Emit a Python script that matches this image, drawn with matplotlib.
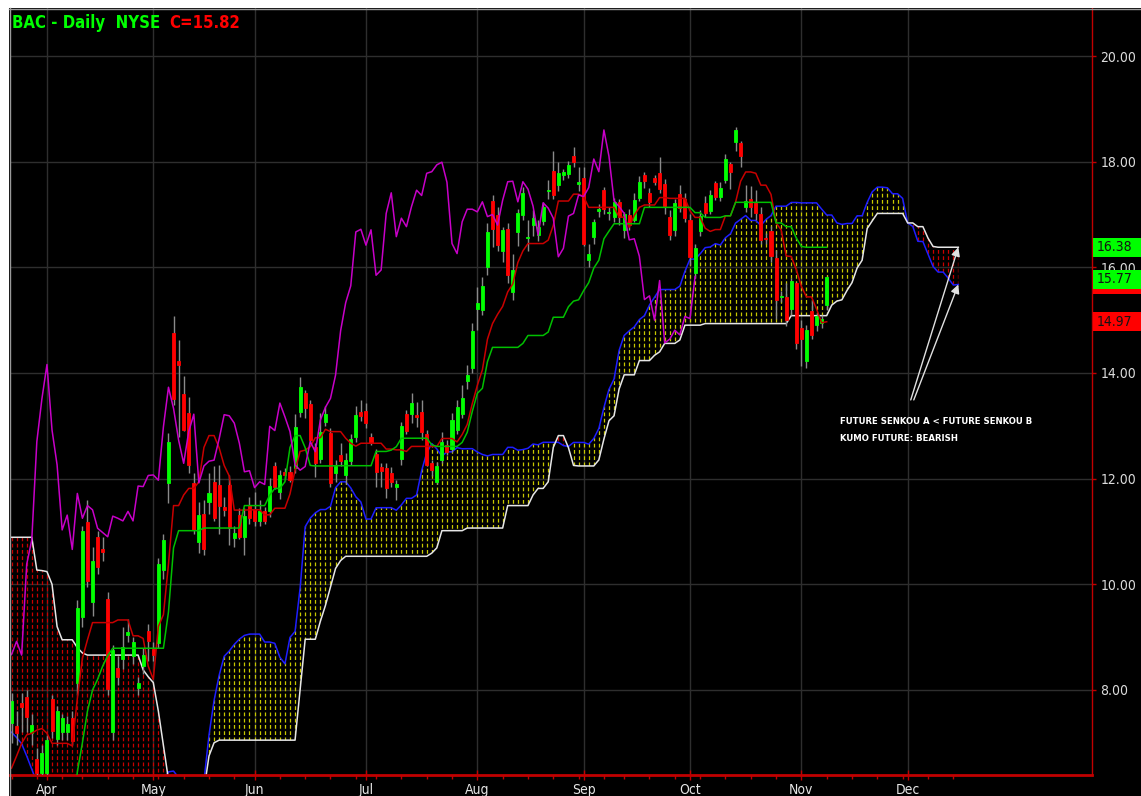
import numpy as np
import pandas as pd
import matplotlib
matplotlib.use("Agg")
import matplotlib.pyplot as plt
import matplotlib.transforms as mtransforms
from matplotlib import font_manager as fm
from matplotlib.patches import Rectangle
from matplotlib.lines import Line2D
from matplotlib.path import Path

# ---------------------------------------------------------------- data
symbol_text = "BAC - Daily  NYSE"
session_start = "2009-03-23"
session_end = "2009-11-09"
market_holidays = ["2009-04-10", "2009-05-25", "2009-07-03", "2009-09-07"]

opens = [7.37, 7.32, 7.75, 7.87, 7.18, 6.69, 6.42, 6.42, 7.83, 7.08,
         7.21, 7.20, 7.46, 8.14, 9.39, 11.18, 9.67, 10.89, 10.67, 9.73,
         7.20, 8.42, 8.58, 9.04, 8.65, 8.03, 8.46, 9.12, 8.77, 8.88,
         10.27, 11.91, 14.76, 14.23, 13.60, 13.24, 11.92, 10.81, 11.34, 11.55,
         11.94, 11.88, 11.47, 11.88, 10.88, 11.31, 10.90, 11.50, 11.43, 11.19,
         11.38, 11.38, 12.24, 11.75, 12.13, 12.13, 12.20, 13.27, 13.63, 13.41,
         12.59, 12.38, 13.08, 12.87, 12.10, 12.45, 12.07, 12.34, 12.79, 13.26,
         13.28, 12.78, 12.46, 12.22, 12.20, 12.10, 11.85, 12.37, 13.22, 13.22,
         13.20, 13.27, 12.85, 12.29, 11.94, 12.35, 12.64, 12.57, 12.92, 13.22,
         13.85, 14.09, 15.22, 15.19, 16.01, 17.26, 16.99, 16.30, 16.73, 15.54,
         16.67, 16.99, 16.55, 16.80, 16.61, 16.88, 17.44, 17.83, 17.56, 17.75,
         17.76, 18.11, 17.58, 17.70, 16.14, 16.58, 17.07, 17.46, 17.02, 16.96,
         17.24, 16.71, 16.99, 16.90, 17.31, 17.75, 17.40, 17.69, 17.78, 17.57,
         16.96, 16.71, 17.39, 17.29, 16.90, 15.90, 16.68, 17.22, 17.07, 17.59,
         17.33, 17.66, 17.96, 18.38, 18.35, 17.15, 17.29, 17.22, 17.01, 16.56,
         16.68, 16.18, 15.43, 15.44, 15.21, 15.71, 14.86, 14.23, 15.17, 14.91,
         14.94, 15.29]

highs = [7.95, 7.60, 7.95, 8.00, 7.55, 6.90, 6.95, 7.15, 7.90, 7.70,
         7.55, 7.50, 7.60, 9.70, 11.10, 11.60, 10.70, 11.00, 10.90, 9.85,
         8.85, 8.65, 9.20, 9.35, 9.00, 8.25, 8.80, 9.25, 8.90, 10.50,
         10.95, 12.86, 15.08, 14.62, 13.95, 13.55, 12.10, 11.55, 11.60, 12.10,
         12.24, 12.26, 11.65, 12.07, 11.10, 11.45, 11.44, 11.65, 11.75, 11.60,
         11.47, 12.01, 12.32, 12.16, 12.20, 12.23, 13.22, 13.93, 13.68, 13.49,
         12.67, 13.24, 13.38, 12.95, 12.35, 12.67, 12.48, 12.85, 13.37, 13.49,
         13.43, 12.86, 12.57, 12.30, 12.30, 12.22, 11.97, 13.07, 13.30, 13.62,
         13.45, 13.49, 12.93, 12.35, 12.32, 12.89, 12.74, 13.24, 13.49, 13.77,
         14.15, 14.94, 15.63, 15.82, 16.83, 17.37, 17.14, 16.77, 16.84, 16.26,
         17.11, 17.52, 16.90, 17.08, 16.89, 17.24, 17.65, 18.21, 17.99, 17.87,
         18.02, 18.27, 17.90, 17.90, 16.45, 16.92, 17.20, 17.52, 17.15, 17.32,
         17.30, 17.05, 17.10, 17.40, 17.72, 17.81, 17.50, 17.75, 18.09, 17.68,
         17.08, 17.30, 17.56, 17.40, 17.00, 16.45, 17.08, 17.35, 17.46, 17.63,
         17.62, 18.15, 18.00, 18.66, 18.40, 17.55, 17.53, 17.46, 17.15, 16.65,
         16.78, 16.32, 15.55, 15.70, 15.80, 15.73, 15.00, 14.90, 15.38, 15.14,
         15.10, 15.84]

lows = [7.00, 6.95, 7.20, 7.20, 6.95, 5.98, 6.10, 6.30, 7.10, 6.95,
        7.05, 7.05, 6.95, 7.90, 9.20, 9.95, 9.40, 10.20, 10.45, 7.90,
        7.05, 8.10, 8.40, 8.90, 8.50, 7.90, 8.30, 8.55, 8.55, 8.80,
        10.10, 11.53, 13.40, 12.79, 12.90, 12.10, 10.95, 10.60, 10.55, 11.34,
        11.20, 10.96, 11.30, 10.74, 10.70, 10.85, 10.56, 11.15, 11.10, 11.10,
        11.15, 11.28, 11.80, 11.62, 12.00, 11.94, 12.10, 13.17, 13.14, 12.70,
        12.04, 12.30, 13.00, 11.85, 11.94, 12.23, 11.90, 12.25, 12.70, 13.10,
        12.95, 12.63, 11.85, 11.85, 11.63, 11.85, 11.60, 12.26, 12.85, 13.05,
        12.98, 12.73, 12.23, 12.05, 11.90, 12.30, 12.45, 12.50, 12.85, 13.15,
        13.70, 14.00, 14.81, 15.10, 15.85, 16.39, 16.30, 16.10, 15.70, 15.38,
        16.40, 16.90, 16.30, 16.60, 16.50, 16.80, 17.30, 17.30, 17.45, 17.65,
        17.70, 17.90, 17.45, 16.40, 16.00, 16.45, 16.95, 17.00, 16.90, 16.85,
        16.80, 16.55, 16.70, 16.85, 17.25, 17.50, 17.15, 17.55, 17.40, 17.00,
        16.52, 16.60, 17.05, 16.85, 16.05, 15.80, 16.60, 16.95, 17.00, 17.28,
        17.25, 17.60, 17.48, 18.20, 17.90, 17.05, 16.95, 16.90, 16.45, 16.45,
        16.10, 15.02, 15.35, 14.88, 15.10, 14.45, 14.13, 14.10, 14.65, 14.80,
        14.85, 15.20]

closes = [7.80, 7.19, 7.67, 7.48, 7.33, 6.42, 6.80, 7.05, 7.22, 7.60,
          7.46, 7.35, 7.04, 9.56, 11.01, 10.06, 10.45, 10.33, 10.61, 8.01,
          8.76, 8.25, 8.82, 9.09, 8.90, 8.14, 8.67, 8.92, 8.66, 10.38,
          10.84, 12.70, 13.51, 14.16, 12.92, 12.26, 11.03, 11.31, 10.66, 11.72,
          11.25, 11.49, 11.41, 11.06, 10.98, 10.90, 11.29, 11.25, 11.20, 11.38,
          11.20, 11.86, 11.85, 12.06, 12.07, 11.97, 12.98, 13.73, 13.33, 12.73,
          12.29, 12.89, 13.22, 11.92, 12.24, 12.33, 12.35, 12.75, 13.21, 13.19,
          13.05, 12.67, 12.13, 12.15, 11.83, 11.94, 11.89, 12.99, 12.91, 13.43,
          13.17, 12.89, 12.26, 12.16, 12.23, 12.70, 12.51, 13.11, 13.35, 13.52,
          13.96, 14.80, 15.33, 15.65, 16.67, 16.72, 16.42, 16.71, 15.85, 15.95,
          17.02, 17.41, 16.58, 16.93, 16.77, 17.15, 17.46, 17.36, 17.78, 17.81,
          17.94, 17.99, 17.61, 16.45, 16.26, 16.86, 17.10, 17.10, 17.05, 17.24,
          16.96, 17.00, 16.80, 17.27, 17.62, 17.63, 17.24, 17.62, 17.48, 17.16,
          16.61, 17.22, 17.12, 16.93, 16.20, 16.36, 16.97, 17.02, 17.37, 17.34,
          17.51, 18.05, 17.81, 18.60, 18.10, 17.26, 17.15, 17.02, 16.52, 16.54,
          16.21, 15.39, 15.46, 15.00, 15.75, 14.57, 14.64, 14.81, 14.72, 15.07,
          15.03, 15.82]

# indicator values at the start of the window (their look-back reaches
# into sessions before the first bar shown)
tenkan_head = [6.52, 6.75, 6.99, 7.15, 7.18, 7.24, 7.27, 7.18]
kijun_head = [5.30, 5.30, 5.30, 5.40, 5.40, 5.66, 5.66, 5.50, 5.50, 5.60,
              5.60, 5.60, 5.60, 6.45, 7.00, 7.60, 8.00, 8.20, 8.45, 8.65,
              8.79, 8.79, 8.79, 8.79, 8.79]
senkou_a_head = [7.20, 7.10, 6.98, 6.75, 6.50, 6.25, 6.10, 6.00, 5.90, 5.90,
                 5.90, 5.90, 5.90, 5.90, 5.90, 5.90, 5.90, 5.90, 5.90, 5.90,
                 5.90, 5.90, 5.90, 5.90, 5.90, 5.90]
senkou_b_head = [10.89, 10.89, 10.89, 10.89, 10.89, 10.27, 10.26, 10.24, 10.00, 9.20,
                 8.95, 8.95, 8.95, 8.80, 8.70, 8.66, 8.66, 8.66, 8.66, 8.66,
                 8.66, 8.66, 8.66, 8.66, 8.66, 8.66, 8.38, 8.25, 8.14, 7.60,
                 6.95, 6.30, 6.00, 5.70, 5.70, 5.70, 5.70, 5.70, 6.10, 6.75,
                 7.00, 7.05, 7.05, 7.05, 7.05, 7.05, 7.05, 7.05, 7.05, 7.05,
                 7.05, 7.05, 7.05, 7.05, 7.05, 7.05, 7.05, 8.00, 8.96, 8.96,
                 8.96, 9.30, 9.60, 9.95, 10.30, 10.45, 10.53, 10.53, 10.53, 10.53,
                 10.53, 10.53, 10.53, 10.53, 10.53, 10.53, 10.53]

price_ticks = [8, 10, 12, 14, 16, 18, 20]
tag_values = [16.38, 15.77, 14.97]          # right-axis value tags
annotation_lines = ["FUTURE SENKOU A < FUTURE SENKOU B", "KUMO FUTURE: BEARISH"]

# ------------------------------------------------------ indicator lines
o = np.array(opens); h = np.array(highs); l = np.array(lows); c = np.array(closes)
n = len(c)
shift = 26


def midpoint(period, head):
    out = np.empty(n)
    for i in range(n):
        if i < len(head):
            out[i] = head[i]
        else:
            out[i] = (h[i - period + 1:i + 1].max() + l[i - period + 1:i + 1].min()) / 2
    return out


tenkan = midpoint(9, tenkan_head)
kijun = midpoint(26, kijun_head)

m = n + shift
span_a = np.empty(m)
span_b = np.empty(m)
for p in range(m):
    span_a[p] = senkou_a_head[p] if p < shift else (tenkan[p - shift] + kijun[p - shift]) / 2
    if p < len(senkou_b_head):
        span_b[p] = senkou_b_head[p]
    else:
        j = p - shift
        span_b[p] = (h[j - 51:j + 1].max() + l[j - 51:j + 1].min()) / 2

x = np.arange(n)
xp = np.arange(m)

# calendar
dates = pd.bdate_range(session_start, session_end, freq="C", holidays=market_holidays)
future = pd.bdate_range(dates[-1] + pd.Timedelta(days=1), periods=shift)
all_dates = dates.append(future)


# ---------------------------------------------------------------- fonts
def narrow_font(bold):
    ranked = []
    for f in fm.fontManager.ttflist:
        fn = f.fname.lower()
        if not ("narrow" in fn or "condensed" in fn):
            continue
        if "serif" in fn or "mono" in fn or f.style != "normal":
            continue
        if "semicondensed" in fn or "extracondensed" in fn:
            continue
        w = f.weight if isinstance(f.weight, int) else (700 if "bold" in str(f.weight) else 400)
        if (w >= 600) != bold or w > 750:
            continue
        rank = 0 if "liberation" in fn else (1 if "dejavu" in fn else 2)
        ranked.append((rank, f.fname))
    if ranked:
        ranked.sort()
        return fm.FontProperties(fname=ranked[0][1])
    return fm.FontProperties(family="Liberation Sans", weight="bold" if bold else "normal")


fp_reg = narrow_font(False)
fp_bold = narrow_font(True)

# ---------------------------------------------------------------- figure
W, H = 1141, 796
fig = plt.figure(figsize=(W / 100, H / 100), dpi=100, facecolor="black")
renderer = fig.canvas.get_renderer()


def sized(fp, text, target_px, lo, hi):
    probe = fig.text(0, 0, text, fontproperties=fp, fontsize=10)
    w = probe.get_window_extent(renderer).width
    probe.remove()
    f = fp.copy()
    f.set_size(min(max(10 * target_px / w, lo), hi))
    return f


fp_ytick = sized(fp_reg, "20.00", 30, 10, 11)
fp_xtick = sized(fp_reg, "Apr", 19, 10, 11)
fp_title = sized(fp_bold, symbol_text, 132, 12, 13.5)
fp_note = sized(fp_bold, annotation_lines[0], 166, 6.8, 8.5)

ax = fig.add_axes([10 / W, 21 / H, 1082 / W, 767 / H])
ax.set_facecolor("black")
ax.set_axisbelow(True)

# kumo hatching: vertical dashed strokes clipped to the cloud
ylo, yhi = 5.0, 22.0


def cloud_hatch(mask, color):
    poly = ax.fill_between(xp, span_a, span_b, where=mask, interpolate=True,
                           facecolor="none", edgecolor="none", linewidth=0)
    paths = poly.get_paths()
    if not paths:
        return
    clip = Path.make_compound_path(*paths)
    strokes = ax.vlines(xp, ylo, yhi, colors=color, linewidth=0.9,
                        linestyles=[(0, (3.0, 2.0))], zorder=1)
    strokes.set_clip_path(clip, transform=ax.transData)


cloud_hatch(span_a >= span_b, "#c8c800")
cloud_hatch(span_a < span_b, "#c80000")

ax.plot(xp, span_a, color="#1e1eff", lw=1.1, zorder=2)
ax.plot(xp, span_b, color="#e6e6e6", lw=1.1, zorder=2)

# candles
up = c >= o
body_col = np.where(up, "#00ff00", "#ff0000")
ax.vlines(x, l, h, colors="#8a8a8a", linewidth=1.0, zorder=3)
ax.bar(x, np.abs(c - o), bottom=np.minimum(o, c), width=0.6, color=body_col,
       edgecolor=body_col, linewidth=0.6, zorder=4)

# tenkan / kijun / chikou
ax.plot(x, tenkan, color="#c80000", lw=1.1, zorder=5)
ax.plot(x, kijun, color="#00c000", lw=1.1, zorder=5)
ax.plot(x[:n - shift], c[shift:], color="#c800c8", lw=1.1, zorder=5)

# axes ranges
ax.set_xlim(-0.3, 213.4)
ax.set_ylim(20 - 719 / 52.83, 20 + 48 / 52.83)

# x ticks: month starts (major) and weeks (minor)
major = [k for k in range(1, m) if all_dates[k].month != all_dates[k - 1].month]
minor = [k for k in range(m) if k == 0 or all_dates[k].weekday() < all_dates[k - 1].weekday()]
ax.set_xticks(major)
ax.set_xticklabels([all_dates[k].strftime("%b") for k in major], fontproperties=fp_xtick)
ax.set_xticks(minor, minor=True)
ax.tick_params(axis="x", which="major", colors="#c00000", labelcolor="#e6e6e6",
               length=7, width=1, direction="inout", pad=2)
ax.tick_params(axis="x", which="minor", colors="#c00000", length=3, width=1, direction="out")

# y ticks on the right
ax.yaxis.tick_right()
ax.set_yticks(price_ticks)
ax.set_yticklabels([f"{v:.2f}" for v in price_ticks], fontproperties=fp_ytick)
ax.tick_params(axis="y", colors="#c00000", labelcolor="#dcdcdc", length=3, width=1,
               direction="out", pad=3)

ax.grid(True, which="major", color="#2e2e2e", linewidth=1)

for side in ("top", "left"):
    ax.spines[side].set_visible(False)
ax.spines["bottom"].set_color("#c00000")
ax.spines["bottom"].set_linewidth(2)
ax.spines["right"].set_color("#c00000")
ax.spines["right"].set_linewidth(1)

# value tags on the price scale
blend = mtransforms.blended_transform_factory(ax.transAxes, ax.transData)
tag_w = 48 / 1082
tag_h = 19 / 52.83
tags = [(span_a[-1], "#ff0000", 6), (tag_values[2], "#ff0000", 6),
        (tag_values[0], "#00ff00", 7), (tag_values[1], "#00ff00", 7)]
for val, col, z in tags:
    ax.add_patch(Rectangle((1 + 1 / 1082, val - tag_h / 2), tag_w, tag_h,
                           transform=blend, facecolor=col, edgecolor="none",
                           clip_on=False, zorder=z))
    ax.text(1 + 5 / 1082, val, f"{val:.2f}", transform=blend, color="#141414",
            fontproperties=fp_ytick, va="center", ha="left",
            clip_on=False, zorder=z + 0.5)

# annotation and arrows pointing at the end of the future cloud
ax.text(163.6, 13.03, annotation_lines[0], color="white", fontproperties=fp_note,
        va="baseline", ha="left", zorder=8)
ax.text(163.6, 12.71, annotation_lines[1], color="white", fontproperties=fp_note,
        va="baseline", ha="left", zorder=8)
for tail_x, tip in ((177.6, span_b[-1]), (178.2, span_a[-1])):
    ax.annotate("", xy=(m - 1, tip), xytext=(tail_x, 13.49),
                arrowprops=dict(arrowstyle="-|>", color="#e0e0e0", lw=1.0,
                                mutation_scale=13, shrinkA=0, shrinkB=0),
                zorder=8)

# title: symbol in green, last close in red right after it
t1 = fig.text(12 / W, 1 - 28 / H, symbol_text, color="#00ff00", fontproperties=fp_title,
              va="baseline", ha="left")
x_end = t1.get_window_extent(renderer).x1
fig.text((x_end + 9) / W, 1 - 28 / H, f"C={c[-1]:.2f}", color="#ff0000",
         fontproperties=fp_title, va="baseline", ha="left")

# window frame
fig.patches.append(Rectangle((0, 1 - 8 / H), 1, 8 / H, transform=fig.transFigure,
                             facecolor="white", edgecolor="none", zorder=0))
fig.patches.append(Rectangle((0, 0), 9 / W, 1, transform=fig.transFigure,
                             facecolor="white", edgecolor="none", zorder=0))
fig.lines.append(Line2D([9 / W, 1], [1 - 8.5 / H, 1 - 8.5 / H], transform=fig.transFigure,
                        color="#9a9a9a", lw=1))
fig.lines.append(Line2D([9.5 / W, 9.5 / W], [0, 1 - 8 / H], transform=fig.transFigure,
                        color="#9a9a9a", lw=1))

fig.savefig("out.png", dpi=100, facecolor="black")
